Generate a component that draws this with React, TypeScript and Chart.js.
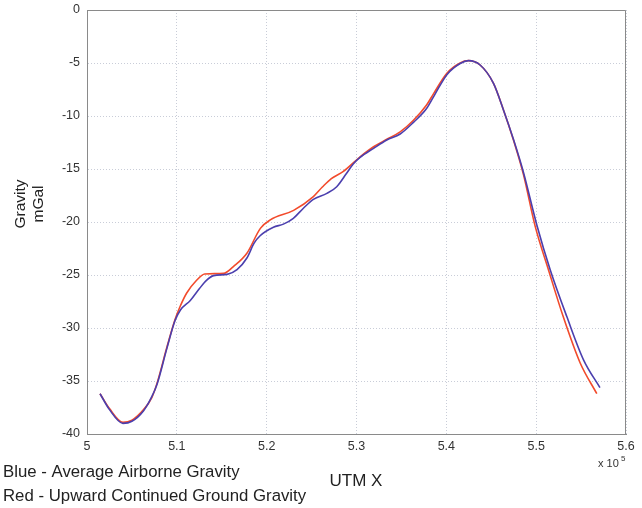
import React, { useEffect, useRef } from "react";
import { Chart, registerables } from "chart.js";

Chart.register(...registerables);

const blueX = [5.0145, 5.025, 5.04, 5.05, 5.063, 5.072, 5.078, 5.089, 5.098, 5.104, 5.115, 5.125, 5.133, 5.141, 5.156, 5.167, 5.178, 5.186, 5.1927, 5.2075, 5.2186, 5.2297, 5.2409, 5.252, 5.267, 5.278, 5.289, 5.2966, 5.304, 5.319, 5.3337, 5.3486, 5.3634, 5.378, 5.387, 5.4006, 5.4154, 5.4246, 5.4376, 5.4525, 5.4636, 5.4747, 5.4858, 5.5008, 5.5156, 5.534, 5.5527, 5.571];
const blueY = [-36.2, -37.7, -39.0, -38.8, -37.8, -36.5, -35.3, -31.9, -29.3, -28.3, -27.4, -26.3, -25.5, -25.06, -24.94, -24.5, -23.4, -22.0, -21.3, -20.5, -20.2, -19.65, -18.7, -17.86, -17.3, -16.67, -15.4, -14.5, -13.9, -13.05, -12.26, -11.7, -10.6, -9.3, -8.0, -6.1, -5.05, -4.78, -5.19, -6.92, -9.43, -12.2, -15.3, -20.3, -24.5, -28.9, -33.0, -35.63];

const redX = [5.0145, 5.025, 5.04, 5.05, 5.063, 5.072, 5.078, 5.089, 5.098, 5.1035, 5.111, 5.122, 5.131, 5.152, 5.163, 5.178, 5.193, 5.204, 5.23, 5.252, 5.262, 5.272, 5.285, 5.304, 5.319, 5.3337, 5.3486, 5.3634, 5.378, 5.386, 5.4006, 5.4154, 5.4246, 5.4376, 5.4525, 5.4636, 5.4747, 5.4858, 5.499, 5.514, 5.53, 5.549, 5.5675];
const redY = [-36.2, -37.6, -38.9, -38.7, -37.7, -36.6, -35.2, -31.8, -29.2, -28.0, -26.7, -25.5, -24.9, -24.85, -24.2, -22.95, -20.6, -19.8, -18.9, -17.6, -16.7, -15.9, -15.25, -13.85, -12.9, -12.2, -11.5, -10.4, -8.96, -7.86, -5.97, -5.0, -4.78, -5.19, -6.92, -9.43, -12.26, -15.5, -20.44, -24.6, -28.9, -33.3, -36.2];

const xTicks = [5, 5.1, 5.2, 5.3, 5.4, 5.5, 5.6];
const yTicks = [0, -5, -10, -15, -20, -25, -30, -35, -40];

const yTitle = ["Gravity", "mGal"];
const xTitle = "UTM X";
const legendLines = ["Blue - Average Airborne Gravity", "Red - Upward Continued Ground Gravity"];

const FONT = "'Liberation Sans', Arial, Helvetica, sans-serif";

export default function App() {
  const ref = useRef<HTMLCanvasElement | null>(null);
  useEffect(() => {
    document.body.style.margin = "0";
    const canvas = ref.current!;
    const textPlugin = {
      id: "texts",
      afterDraw(chart: any) {
        const ctx = chart.ctx;
        const a = chart.chartArea;
        ctx.save();
        ctx.strokeStyle = "#8a8a8a";
        ctx.lineWidth = 1;
        ctx.beginPath();
        ctx.moveTo(a.left, a.top + 0.5);
        ctx.lineTo(a.right - 0.5, a.top + 0.5);
        ctx.lineTo(a.right - 0.5, a.bottom);
        ctx.stroke();
        ctx.fillStyle = "#222";
        ctx.font = `15.5px ${FONT}`;
        ctx.textAlign = "center";
        ctx.textBaseline = "middle";
        [21, 39].forEach((x, i) => {
          ctx.save();
          ctx.translate(x, 204);
          ctx.rotate(-Math.PI / 2);
          ctx.fillText(yTitle[i], 0, 0);
          ctx.restore();
        });
        ctx.font = `17px ${FONT}`;
        ctx.fillText(xTitle, 356, 481);
        ctx.textAlign = "left";
        ctx.font = `16.8px ${FONT}`;
        ctx.fillText(legendLines[0], 3, 472);
        ctx.fillText(legendLines[1], 3, 496);
        ctx.font = `11px ${FONT}`;
        ctx.fillStyle = "#333";
        ctx.fillText("x 10", 598, 464);
        ctx.font = `8px ${FONT}`;
        ctx.fillText("5", 621, 459);
        ctx.restore();
      },
    };
    const chart = new Chart(canvas, {
      type: "scatter",
      data: {
        datasets: [
          {
            label: "Blue",
            data: blueX.map((x, i) => ({ x, y: blueY[i] })),
            showLine: true,
            borderColor: "#4b3fae",
            borderWidth: 1.6,
            pointRadius: 0,
            cubicInterpolationMode: "monotone",
          },
          {
            label: "Red",
            data: redX.map((x, i) => ({ x, y: redY[i] })),
            showLine: true,
            borderColor: "#f24b2c",
            borderWidth: 1.6,
            pointRadius: 0,
            cubicInterpolationMode: "monotone",
          },
        ],
      },
      options: {
        animation: false,
        responsive: false,
        maintainAspectRatio: false,
        layout: { padding: { top: 10, right: 16, left: 0, bottom: 0 } },
        plugins: { legend: { display: false }, tooltip: { enabled: false } },
        scales: {
          x: {
            type: "linear",
            min: 5,
            max: 5.6,
            afterBuildTicks(s: any) {
              s.ticks = xTicks.map((v) => ({ value: v }));
            },
            afterFit(s: any) {
              s.height = 74;
              s.paddingLeft = 0;
              s.paddingRight = 0;
            },
            ticks: {
              padding: 5,
              color: "#333",
              font: { size: 12.5, family: FONT },
              maxRotation: 0,
              callback: (v: any) => String(Number(Number(v).toFixed(1))),
            },
            grid: {
              color: "#c9cdd8",
              drawTicks: false,
              tickLength: 0,
            },
            border: { color: "#8a8a8a", dash: [1, 2] } as any,
          },
          y: {
            type: "linear",
            min: -40,
            max: 0,
            afterBuildTicks(s: any) {
              s.ticks = yTicks.map((v) => ({ value: v }));
            },
            afterFit(s: any) {
              s.width = 87;
              s.paddingTop = 0;
              s.paddingBottom = 0;
            },
            ticks: {
              padding: 7,
              color: "#333",
              font: { size: 12.5, family: FONT },
            },
            grid: {
              color: "#c9cdd8",
              drawTicks: false,
              tickLength: 0,
            },
            border: { color: "#8a8a8a", dash: [1, 2] } as any,
          },
        },
      },
      plugins: [textPlugin],
    } as any);
    return () => chart.destroy();
  }, []);
  return (
    <div style={{ position: "absolute", left: 0, top: 0, width: 642, height: 508, background: "#fff" }}>
      <canvas ref={ref} width={642} height={508} style={{ display: "block" }} />
    </div>
  );
}
